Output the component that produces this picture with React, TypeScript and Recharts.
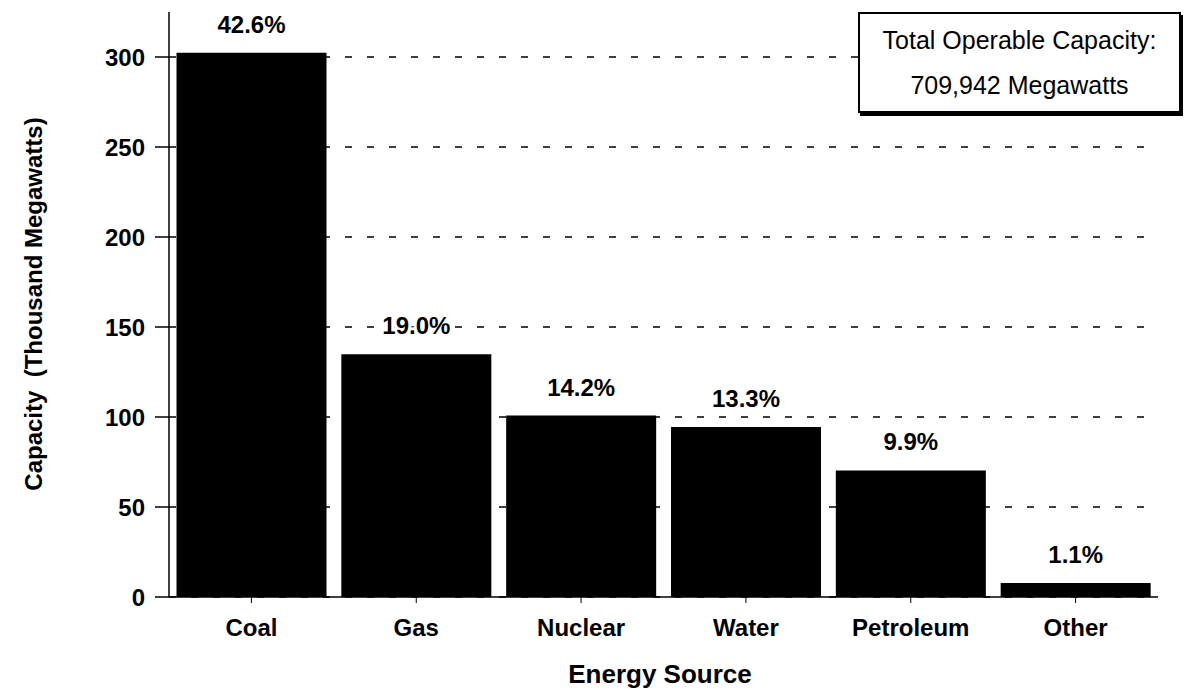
import { BarChart, Bar, XAxis, YAxis, CartesianGrid, LabelList, Label } from 'recharts'

const sources = ['Coal', 'Gas', 'Nuclear', 'Water', 'Petroleum', 'Other']
// operable capacity, thousand megawatts
const capacity = [302.4, 134.9, 100.8, 94.4, 70.3, 7.8]
// share of total, percent
const share = [42.6, 19.0, 14.2, 13.3, 9.9, 1.1]
const yTicks = [0, 50, 100, 150, 200, 250, 300]
const totalLines = ['Total Operable Capacity:', '709,942 Megawatts']

const data = sources.map((name, i) => ({ name, capacity: capacity[i], share: share[i] }))

const FONT = '"Liberation Sans", Arial, Helvetica, sans-serif'

function YTitle() {
  return (
    <text
      x={33}
      y={304}
      transform="rotate(-90 33 304)"
      textAnchor="middle"
      dominantBaseline="central"
      fontFamily={FONT}
      fontWeight="bold"
      fontSize={24}
      fill="#000"
    >
      {'Capacity\u00a0\u00a0(Thousand Megawatts)'}
    </text>
  )
}

function XTitle() {
  return (
    <text x={660} y={683} textAnchor="middle" fontFamily={FONT} fontWeight="bold" fontSize={26} fill="#000">
      Energy Source
    </text>
  )
}

export default function App() {
  return (
    <div style={{ position: 'absolute', left: 0, top: 0, width: 1189, height: 695, background: '#fff', fontFamily: FONT }}>
      <BarChart
        width={1189}
        height={695}
        data={data}
        margin={{ top: 12, right: 31, bottom: 0, left: 0 }}
        barCategoryGap={7.5}
      >
        <CartesianGrid
          vertical={false}
          horizontalValues={yTicks}
          stroke="#000"
          strokeWidth={1.5}
          strokeDasharray="7 15"
        />
        <XAxis
          dataKey="name"
          height={98}
          axisLine={{ stroke: '#000', strokeWidth: 1.5 }}
          tickLine={{ stroke: '#000' }}
          tickSize={6}
          tickMargin={16}
          tick={{ fontSize: 24, fontWeight: 'bold', fill: '#000', fontFamily: FONT }}
        >
          <Label content={<XTitle />} />
        </XAxis>
        <YAxis
          width={169}
          domain={[0, 325]}
          ticks={yTicks}
          axisLine={{ stroke: '#000', strokeWidth: 1.5 }}
          tickLine={{ stroke: '#000', strokeWidth: 1.5 }}
          tickSize={14}
          tickMargin={10}
          tick={{ fontSize: 24, fontWeight: 'bold', fill: '#000', fontFamily: FONT }}
        >
          <Label content={<YTitle />} />
        </YAxis>
        <Bar dataKey="capacity" fill="#000" isAnimationActive={false}>
          <LabelList
            dataKey="share"
            position="top"
            offset={20}
            formatter={(v: number) => `${Number(v).toFixed(1)}%`}
            style={{
              fontSize: 24,
              fontWeight: 'bold',
              fill: '#000',
              fontFamily: FONT,
              stroke: '#fff',
              strokeWidth: 6,
              paintOrder: 'stroke',
            }}
          />
        </Bar>
      </BarChart>
      <div
        style={{
          position: 'absolute',
          left: 858,
          top: 12,
          width: 323,
          height: 101,
          boxSizing: 'border-box',
          border: '2px solid #000',
          boxShadow: '2px 3px 0 #000',
          background: '#fff',
          paddingTop: 4,
          textAlign: 'center',
          fontSize: 25,
          lineHeight: '45px',
          color: '#000',
        }}
      >
        {totalLines.map((t) => (
          <div key={t}>{t}</div>
        ))}
      </div>
    </div>
  )
}
